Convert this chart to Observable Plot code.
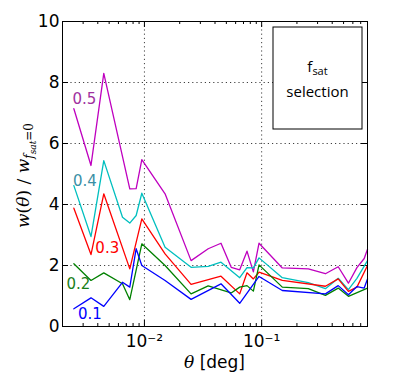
<!DOCTYPE html>
<html>
<head>
<meta charset="utf-8">
<script src="https://cdn.jsdelivr.net/npm/d3@7"></script>
<script src="https://cdn.jsdelivr.net/npm/@observablehq/plot@0.6"></script>
<style>
  html, body { margin: 0; padding: 0; background: #fff; }
  svg { display: block; }
</style>
</head>
<body>
<div id="chart"></div>
<script>
// ---- data ----
const theta = [0.0025, 0.0035, 0.0045, 0.0065, 0.0075, 0.0085, 0.0095, 0.015, 0.025, 0.035, 0.045, 0.055,
               0.065, 0.075, 0.085, 0.095, 0.15, 0.25, 0.35, 0.45, 0.55, 0.65, 0.75, 0.8];
const fsat05 = [7.14, 5.28, 8.30, null, 4.51, 4.52, 5.47, 4.35, 2.16, 2.55, 2.73, 1.94,
                1.86, 2.47, 1.79, 2.73, 1.92, 1.89, 1.73, 1.96, 1.42, 1.93, 2.23, 2.53];
const fsat04 = [4.62, 2.95, 5.44, 3.58, 3.39, 3.64, 4.37, 2.60, 1.94, 1.97, 2.11, null,
                1.60, 1.93, 1.92, 2.25, 1.60, 1.44, 1.24, 1.58, 1.21, 1.58, null, 2.16];
const fsat03 = [3.88, 2.36, 4.35, null, 1.89, null, 3.53, 2.38, 1.38, null, 1.65, null,
                1.07, 1.76, 1.56, 1.78, 1.51, null, 1.32, 1.56, 1.15, 1.29, null, 2.00];
const fsat02 = [2.06, 1.51, 1.76, 1.40, 0.88, null, 2.71, 2.00, 1.07, 1.33, null, 1.10,
                1.29, 1.34, 1.16, 2.02, 1.29, 1.24, 1.02, 1.26, 0.99, null, null, 1.26];
const fsat01 = [0.58, 0.94, 0.66, 1.45, 1.29, 2.55, 2.00, 1.51, 0.89, null, 1.40, null,
                0.76, null, null, 1.64, 1.18, null, 1.07, 1.34, 1.04, 1.31, 1.26, 1.56];

const seriesNames = ["0.5", "0.4", "0.3", "0.2", "0.1"];
const seriesValues = [fsat05, fsat04, fsat03, fsat02, fsat01];
const lineColors = ["#bf00bf", "#00bfbf", "#ff0000", "#008000", "#0000ff"];
const labelColors = ["#a030a0", "#3a8fa5", "#ff0000", "#1a801a", "#0000ff"];
const labelTheta = [0.00308, 0.00310, 0.00482, 0.00273, 0.00342];
const labelValue = [7.44, 4.75, 2.57, 1.38, 0.39];

const xMajor = [0.01, 0.1];
const xMajorLabels = ["10⁻²", "10⁻¹"];
const xMinor = [0.003, 0.004, 0.005, 0.006, 0.007, 0.008, 0.009,
                0.02, 0.03, 0.04, 0.05, 0.06, 0.07, 0.08, 0.09,
                0.2, 0.3, 0.4, 0.5, 0.6, 0.7];
const yTicks = [0, 2, 4, 6, 8, 10];
const yGrid = [2, 4, 6, 8];

// ---- build ----
const W = 404, H = 379;
const mL = 62, mR = 37, mT = 21, mB = 53;
const fw = W - mL - mR, fh = H - mT - mB;

const lineData = [];
seriesNames.forEach((name, k) => {
  theta.forEach((t, i) => {
    const v = seriesValues[k][i];
    if (v != null) lineData.push({theta: t, value: v, series: name});
  });
});
const labelData = seriesNames.map((s, k) => ({s, x: labelTheta[k], y: labelValue[k], c: labelColors[k]}));
const xLabelData = xMajor.map((t, i) => ({t, s: xMajorLabels[i]}));

const chart = Plot.plot({
  width: W, height: H,
  marginLeft: mL, marginRight: mR, marginTop: mT, marginBottom: mB,
  style: {fontFamily: "DejaVu Sans", background: "#fff", color: "#000"},
  x: {type: "log", domain: [0.002, 0.8], axis: null},
  y: {domain: [0, 10], axis: null},
  marks: [
    Plot.gridX(xMajor, {stroke: "#000", strokeOpacity: 0.75, strokeDasharray: "1.2,3"}),
    Plot.gridY(yGrid, {stroke: "#000", strokeOpacity: 0.75, strokeDasharray: "1.2,3"}),
    // ticks (inward, on all four sides)
    Plot.ruleX(xMajor, {x: d => d, insetTop: fh - 6, stroke: "#000"}),
    Plot.ruleX(xMajor, {x: d => d, insetBottom: fh - 6, stroke: "#000"}),
    Plot.ruleX(xMinor, {x: d => d, insetTop: fh - 3, stroke: "#000"}),
    Plot.ruleX(xMinor, {x: d => d, insetBottom: fh - 3, stroke: "#000"}),
    Plot.ruleY(yTicks, {y: d => d, insetRight: fw - 6, stroke: "#000"}),
    Plot.ruleY(yTicks, {y: d => d, insetLeft: fw - 6, stroke: "#000"}),
    ...seriesNames.map((name, k) =>
      Plot.line(lineData.filter(d => d.series === name), {
        x: "theta", y: "value", stroke: lineColors[k], strokeWidth: 1.3
      })
    ),
    Plot.text(labelData, {x: "x", y: "y", text: "s", fill: "c", fontSize: 15, textAnchor: "middle"}),
    Plot.text(xLabelData, {x: "t", text: "s", frameAnchor: "bottom", dy: 20, fontSize: 17, textAnchor: "middle"}),
    Plot.text(yTicks, {y: d => d, text: d => String(d), frameAnchor: "left", dx: -3, textAnchor: "end", fontSize: 17}),
    Plot.frame({stroke: "#000"})
  ]
});
document.getElementById("chart").appendChild(chart);

const svg = d3.select(chart);

// y-axis label
const yl = svg.append("text")
  .attr("transform", `translate(29,${mT + fh / 2 + 2}) rotate(-90)`)
  .attr("text-anchor", "middle")
  .attr("font-family", "DejaVu Serif")
  .attr("font-size", 17)
  .attr("font-style", "italic")
  .attr("fill", "#000");
yl.append("tspan").text("w");
yl.append("tspan").attr("font-style", "normal").text("(");
yl.append("tspan").text("θ");
yl.append("tspan").attr("font-style", "normal").text(") / ");
yl.append("tspan").text("w");
yl.append("tspan").attr("font-size", 12).attr("dy", 4).text("f");
yl.append("tspan").attr("font-size", 9).attr("dy", 3).text("sat");
yl.append("tspan").attr("font-size", 12).attr("dy", -3).attr("font-style", "normal").text("=0");

// x-axis label
const xl = svg.append("text")
  .attr("x", mL + fw / 2)
  .attr("y", 368)
  .attr("text-anchor", "middle")
  .attr("font-size", 17)
  .attr("fill", "#000");
xl.append("tspan").attr("font-family", "DejaVu Serif").attr("font-style", "italic").text("θ");
xl.append("tspan").attr("font-family", "DejaVu Sans").text(" [deg]");

// inset annotation box
const bx = 273, by = 27, bw = 89, bh = 102;
svg.append("rect").attr("x", bx).attr("y", by).attr("width", bw).attr("height", bh)
  .attr("fill", "#fff").attr("stroke", "#000").attr("stroke-width", 1);
const t1 = svg.append("text").attr("x", bx + bw / 2).attr("y", 72)
  .attr("text-anchor", "middle").attr("font-family", "Open Sans").attr("font-size", 15).attr("fill", "#000");
t1.append("tspan").text("f");
t1.append("tspan").attr("font-size", 11).attr("dy", 3).text("sat");
svg.append("text").attr("x", bx + bw / 2).attr("y", 97)
  .attr("text-anchor", "middle").attr("font-family", "Open Sans").attr("font-size", 15).attr("fill", "#000")
  .text("selection");
</script>
</body>
</html>
